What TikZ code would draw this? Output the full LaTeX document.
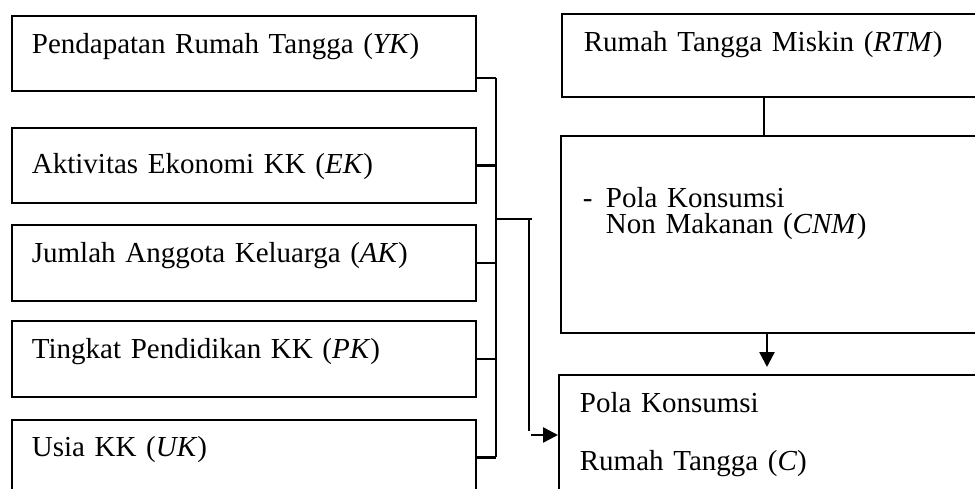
\documentclass[tikz,border=0pt]{standalone}
\usepackage{fontspec}
\setmainfont{Liberation Serif}
\usetikzlibrary{arrows.meta}
\tikzset{
	kotak/.style={draw, line width=1.8pt, anchor=north west, align=left, inner ysep=0pt, inner xsep=20pt, font=\fontsize{29}{26}\selectfont},
	garis/.style={line width=2.4pt},
	panah/.style={line width=2.4pt, -{Triangle[length=15pt,width=15pt]}}
}
\begin{document}
\begin{tikzpicture}[x=1pt,y=-1pt]
	
	\useasboundingbox (0,0) rectangle (975,488);
	\clip (0,0) rectangle (975,488);
	
	% variabel bebas
	\node[kotak, text width=424pt, text height=38pt, text depth=37pt] (yk) at (11,15) {Pendapatan Rumah Tangga (\textit{YK})};
	\node[kotak, text width=424pt, text height=46pt, text depth=29pt] (ek) at (11,127) {Aktivitas Ekonomi KK (\textit{EK})};
	\node[kotak, text width=424pt, text height=38pt, text depth=38pt] (ak) at (11,224) {Jumlah Anggota Keluarga (\textit{AK})};
	\node[kotak, text width=424pt, text height=38pt, text depth=38pt] (pk) at (11,320) {Tingkat Pendidikan KK (\textit{PK})};
	\node[kotak, text width=424pt, text height=37pt, text depth=38pt] (uk) at (11,419) {Usia KK (\textit{UK})};
	
	% sisi kanan
	\node[kotak, inner xsep=22pt, text width=390pt, text height=38pt, text depth=45pt] (rtm) at (561,13) {Rumah Tangga Miskin (\textit{RTM})};
	\node[kotak, inner xsep=22pt, text width=391pt, text height=72pt, text depth=125pt] (cnm) at (560,135) {\makebox[23pt][l]{-}Pola Konsumsi\\\hspace*{23pt}Non Makanan (\textit{CNM})};
	\node[kotak, inner xsep=21pt, text width=395pt, text height=38pt, text depth=88pt] (c) at (558,374) {Pola Konsumsi\\[32pt]Rumah Tangga (\textit{C})};
	
	\coordinate (tulang) at (496,0);
	\coordinate (a1) at ([yshift=-24.5pt]yk.east);
	\coordinate (cabang) at (496,219);
	\coordinate (belok) at (529,219);
	\coordinate (ujung) at (529,431);
	\coordinate (pangkal) at (531,435);
	\coordinate (t1) at (764,0);
	\coordinate (t2) at (767,0);
	
	\draw[garis] (a1) -- (a1 -| tulang);
	\draw[garis] (ek.east) -- (ek.east -| tulang);
	\draw[garis] (ak.east) -- (ak.east -| tulang);
	\draw[garis] (pk.east) -- (pk.east -| tulang);
	\draw[garis] (uk.east) -- (uk.east -| tulang);
	\draw[garis] (a1 -| tulang) -- (uk.east -| tulang);
	
	\draw[garis] (cabang) -- ([xshift=3pt]belok);
	\draw[garis] (belok) -- (ujung);
	\draw[panah] (pangkal) -- (pangkal -| c.west);
	
	\draw[garis] (rtm.south -| t1) -- (cnm.north -| t1);
	\draw[panah, shorten >=7pt] (cnm.south -| t2) -- (c.north -| t2);
	
\end{tikzpicture}
\end{document}
